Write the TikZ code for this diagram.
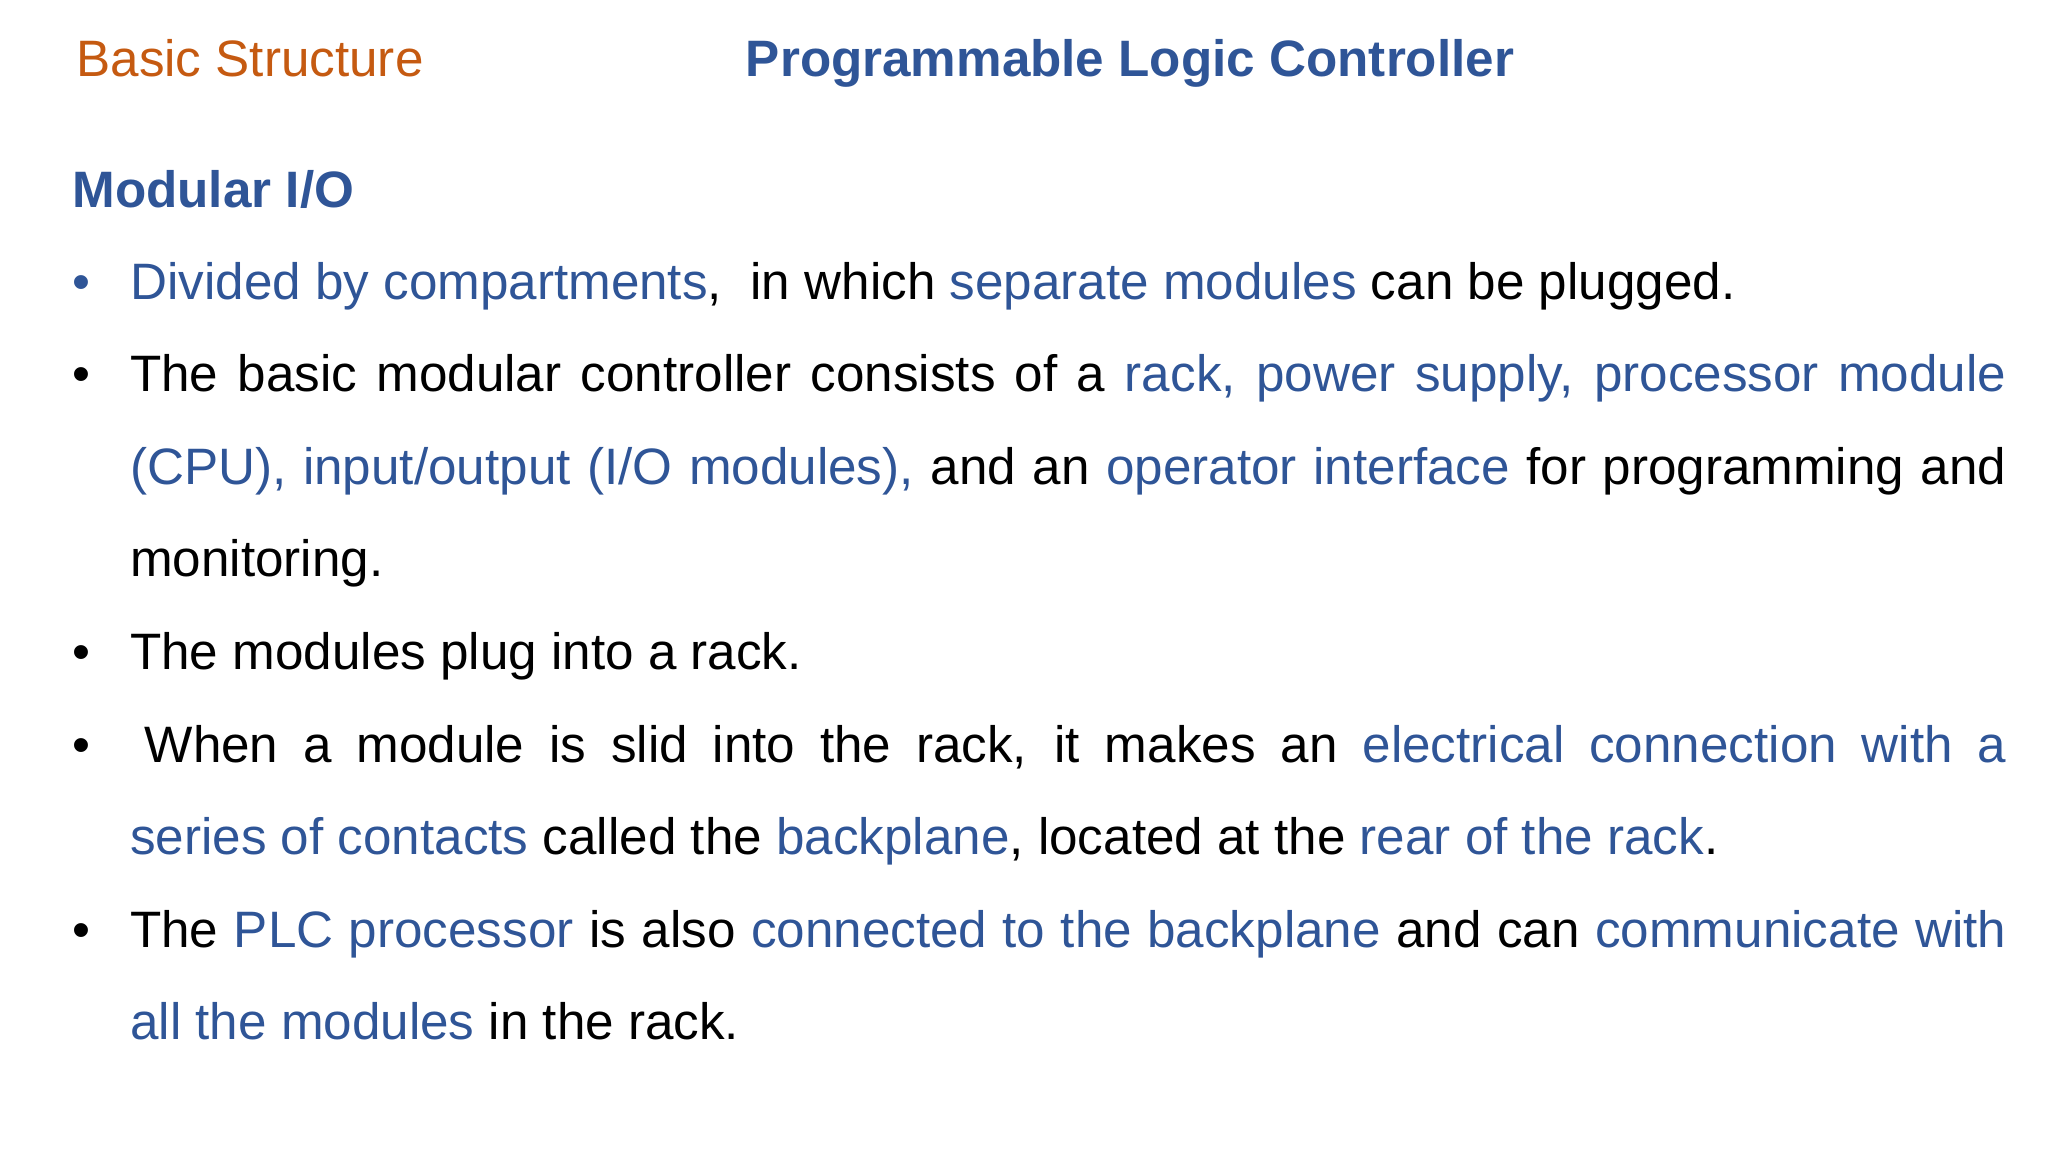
\documentclass[tikz,border=0pt]{standalone}
\usepackage{fontspec}
\setmainfont{Liberation Sans}
\definecolor{bl}{HTML}{2F5597}
\definecolor{orng}{HTML}{C55A11}
\newcommand{\B}[1]{\textcolor{bl}{#1}}
\begin{document}
\begin{tikzpicture}[x=1pt,y=-1pt,
  para/.style={anchor=base west,inner sep=0pt,text width=1429pt,align=justify,font=\fontsize{39}{70.5}\selectfont},
  bul/.style={anchor=base west,inner sep=0pt,font=\fontsize{39}{46}\selectfont}]
\useasboundingbox (0,0) rectangle (1560,877.5);
\node[bul,text=orng] (t1) at (58,58) {Basic Structure};
\node[bul,text=bl,font=\fontsize{39}{46}\selectfont\bfseries] (t2) at (568,58) {Programmable Logic Controller};
\node[bul,text=bl,font=\fontsize{39}{46}\selectfont\bfseries] (h) at (55,158) {Modular I/O};
\node[bul,text=bl] (b1) at (55,228) {•};
\node[para] (p1) at (99,228) {\B{Divided by compartments},\ \ in which \B{separate modules} can be plugged.};
\node[bul] (b2) at (55,298.5) {•};
\node[para] (p2) at (99,298.5) {The basic modular controller consists of a \B{rack, power supply, processor module}\linebreak \B{(CPU), input/output (I/O modules),} and an \B{operator interface} for programming and\linebreak monitoring.};
\node[bul] (b3) at (55,510) {•};
\node[para] (p3) at (99,510) {The modules plug into a rack.};
\node[bul] (b4) at (55,580.5) {•};
\node[para] (p4) at (99,580.5) {\hspace*{11pt}When a module is slid into the rack, it makes an \B{electrical connection with a}\linebreak \B{series of contacts} called the \B{backplane}, located at the \B{rear of the rack}.};
\node[bul] (b5) at (55,721.5) {•};
\node[para] (p5) at (99,721.5) {The \B{PLC processor} is also \B{connected to the backplane} and can \B{communicate with}\linebreak \B{all the modules} in the rack.};
\end{tikzpicture}
\end{document}
